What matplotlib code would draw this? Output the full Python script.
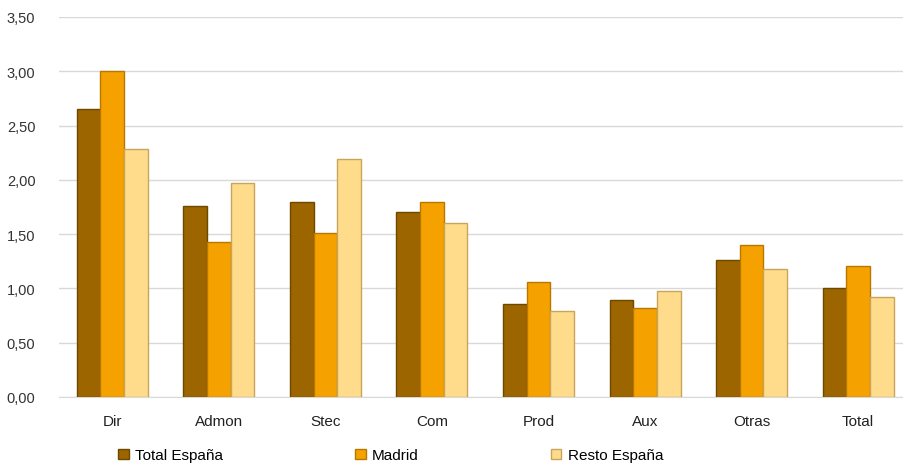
import numpy as np
import matplotlib
matplotlib.use('Agg')
import matplotlib.pyplot as plt
from matplotlib.ticker import FuncFormatter

plt.rcParams['font.family'] = ['Liberation Sans', 'DejaVu Sans']

# data
categories = ['Dir', 'Admon', 'Stec', 'Com', 'Prod', 'Aux', 'Otras', 'Total']
total_espana = [2.65, 1.76, 1.80, 1.70, 0.86, 0.89, 1.26, 1.00]
madrid = [3.00, 1.43, 1.51, 1.80, 1.06, 0.82, 1.40, 1.21]
resto_espana = [2.28, 1.97, 2.19, 1.60, 0.79, 0.98, 1.18, 0.92]

series = [
    ('Total España', total_espana, '#9C6500', '#6E4700'),
    ('Madrid', madrid, '#F5A200', '#B87800'),
    ('Resto España', resto_espana, '#FFDB8C', '#C9A55A'),
]

fig = plt.figure(figsize=(9.04, 4.64), dpi=100)
ax = fig.add_axes([59 / 904, 1 - 398 / 464, 845 / 904, 380 / 464])

x = np.arange(len(categories))
w = 0.222
for i, (name, vals, col, edge) in enumerate(series):
    ax.bar(x + (i - 1) * w, vals, width=w, color=col, edgecolor=edge,
           linewidth=1.0, label=name, zorder=3)

ax.set_ylim(0, 3.5)
ax.set_xlim(-0.5, 7.43)
ax.set_yticks(np.arange(0, 3.51, 0.5))
ax.yaxis.set_major_formatter(FuncFormatter(lambda v, p: f'{v:.2f}'.replace('.', ',')))
ax.set_xticks(x)
ax.set_xticklabels(categories, fontsize=11, color='#222222')
ax.tick_params(axis='y', length=0, pad=17, labelsize=10.5, labelcolor='#333333')
ax.tick_params(axis='x', length=0, pad=12)
ax.grid(axis='y', color='#D9D9D9', linewidth=1, zorder=0)
for s in ['top', 'right', 'left']:
    ax.spines[s].set_visible(False)
ax.spines['bottom'].set_color('#D9D9D9')

fig.legend(loc='lower left', bbox_to_anchor=(112 / 904, -0.012), ncol=3, frameon=False,
           fontsize=11, handlelength=0.7, handleheight=0.7, handletextpad=0.4,
           columnspacing=8.65, borderaxespad=0.0)

fig.savefig('out.png', dpi=100, facecolor='white')
